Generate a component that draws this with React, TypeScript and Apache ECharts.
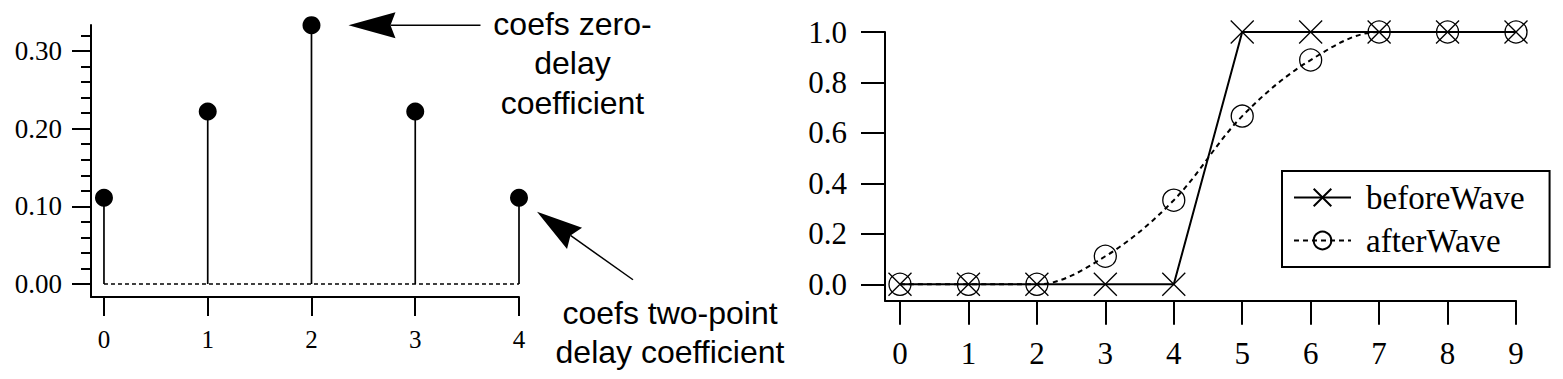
import React, { useEffect, useRef } from "react";
import * as echarts from "echarts";

// Left chart: coefficients (stem plot)
const coefIndex = [0, 1, 2, 3, 4];
const coefs = [0.1111, 0.2222, 0.3333, 0.2222, 0.1111];
const coefYTicks = [0, 0.1, 0.2, 0.3];
const coefYMinorTicks = [0.02, 0.04, 0.06, 0.08, 0.12, 0.14, 0.16, 0.18, 0.22, 0.24, 0.26, 0.28, 0.32];
const coefXTicks = [0, 1, 2, 3, 4];

// Right chart: waves
const waveIndex = [0, 1, 2, 3, 4, 5, 6, 7, 8, 9];
const beforeWave = [0, 0, 0, 0, 0, 1, 1, 1, 1, 1];
const afterWave = [0, 0, 0, 0.1111, 0.3333, 0.6667, 0.8889, 1, 1, 1];
const waveYTicks = [0, 0.2, 0.4, 0.6, 0.8, 1.0];
const waveXTicks = [0, 1, 2, 3, 4, 5, 6, 7, 8, 9];

const topNote = "coefs zero-\ndelay\ncoefficient";
const bottomNote = "coefs two-point\ndelay coefficient";

const SERIF = "'Liberation Serif', 'Times New Roman', serif";
const SANS = "'Liberation Sans', Arial, sans-serif";

export default function App() {
  const ref = useRef<HTMLDivElement>(null);
  useEffect(() => {
    document.body.style.margin = "0";
    if (!ref.current) return;
    const chart = echarts.init(ref.current, null, { renderer: "svg" });
    const axisLine = { show: true, onZero: false, lineStyle: { color: "#000", width: 2 } };
    const option: any = {
      animation: false,
      backgroundColor: "#fff",
      textStyle: { fontFamily: SERIF, color: "#000" },
      grid: [
        { left: 91, top: 25, width: 428, height: 272, containLabel: false },
        { left: 885, top: 32, width: 631, height: 268.7, containLabel: false },
      ],
      xAxis: [
        {
          type: "value", gridIndex: 0, min: -0.125, max: 4,
          axisLine, splitLine: { show: false },
          axisTick: { show: true, length: 19, customValues: coefXTicks, lineStyle: { color: "#000", width: 2 } },
          axisLabel: { customValues: coefXTicks, fontSize: 25, color: "#000", fontFamily: SERIF, margin: 30 },
        },
        {
          type: "value", gridIndex: 1, min: -0.219, max: 9,
          axisLine, splitLine: { show: false },
          axisTick: { show: true, length: 24, customValues: waveXTicks, lineStyle: { color: "#000", width: 2 } },
          axisLabel: { customValues: waveXTicks, fontSize: 31, color: "#000", fontFamily: SERIF, margin: 37 },
        },
      ],
      yAxis: [
        {
          type: "value", gridIndex: 0, min: -0.0167, max: 0.3335,
          axisLine, splitLine: { show: false },
          axisTick: { show: true, length: 19, customValues: coefYTicks, lineStyle: { color: "#000", width: 2 } },
          axisLabel: { customValues: coefYTicks, fontSize: 27, color: "#000", fontFamily: SERIF, margin: 29,
            formatter: (v: number) => v.toFixed(2) },
        },
        {
          type: "value", gridIndex: 0, min: -0.0167, max: 0.3335, position: "left", offset: 0,
          axisLine: { show: false, onZero: false }, splitLine: { show: false },
          axisTick: { show: true, length: 10, customValues: coefYMinorTicks, lineStyle: { color: "#000", width: 2 } },
          axisLabel: { show: false },
        },
        {
          type: "value", gridIndex: 1, min: -0.065, max: 1,
          axisLine, splitLine: { show: false },
          axisTick: { show: true, length: 24, customValues: waveYTicks, lineStyle: { color: "#000", width: 2 } },
          axisLabel: { customValues: waveYTicks, fontSize: 31, color: "#000", fontFamily: SERIF, margin: 38,
            formatter: (v: number) => v.toFixed(1) },
        },
      ],
      legend: {
        orient: "vertical", left: 1282, top: 171,
        data: ["beforeWave", "afterWave"],
        itemWidth: 57, itemHeight: 22, itemGap: 10,
        borderColor: "#000", borderWidth: 2, borderRadius: 0,
        padding: [10, 25, 10, 11],
        textStyle: { fontSize: 33, fontFamily: SERIF, color: "#000", padding: [0, 0, 0, 10] },
      },
      series: [
        {
          name: "zero", type: "line", xAxisIndex: 0, yAxisIndex: 0,
          data: [[coefIndex[0], 0], [coefIndex[coefIndex.length - 1], 0]],
          symbol: "none", lineStyle: { color: "#000", width: 1.5, type: [4, 3] }, silent: true,
        },
        {
          name: "stems", type: "custom", xAxisIndex: 0, yAxisIndex: 0,
          data: coefIndex.map((x, i) => [x, coefs[i]]),
          renderItem: (params: any, api: any) => {
            const top = api.coord([api.value(0), api.value(1)]);
            const base = api.coord([api.value(0), 0]);
            return {
              type: "line",
              shape: { x1: top[0], y1: top[1], x2: base[0], y2: base[1] },
              style: { stroke: "#000", lineWidth: 1.7 },
            };
          },
        },
        {
          name: "coefs", type: "scatter", xAxisIndex: 0, yAxisIndex: 0,
          data: coefIndex.map((x, i) => [x, coefs[i]]),
          symbol: "circle", symbolSize: 18, itemStyle: { color: "#000", opacity: 1 },
        },
        {
          name: "beforeWave", type: "line", xAxisIndex: 1, yAxisIndex: 2,
          data: waveIndex.map((x, i) => [x, beforeWave[i]]),
          symbol: "path://M0,0L10,10M10,0L0,10", symbolSize: 23,
          itemStyle: { color: "#000", borderColor: "#000", borderWidth: 1.3 },
          lineStyle: { color: "#000", width: 2 },
        },
        {
          name: "afterWave", type: "line", xAxisIndex: 1, yAxisIndex: 2,
          data: waveIndex.map((x, i) => [x, afterWave[i]]),
          smooth: 0.35,
          symbol: "circle", symbolSize: 22,
          itemStyle: { color: "rgba(0,0,0,0)", borderColor: "#000", borderWidth: 1.3 },
          lineStyle: { color: "#000", width: 2, type: [5, 4] },
        },
      ],
    };
    chart.setOption(option);

    const p2 = chart.convertToPixel({ gridIndex: 0 }, [coefIndex[2], coefs[2]]) as number[];
    const p4 = chart.convertToPixel({ gridIndex: 0 }, [coefIndex[4], coefs[4]]) as number[];
    const t1 = [p2[0] + 37, p2[1]];
    const t2 = [p4[0] + 18, p4[1] + 14];
    const end2 = [t2[0] + 96, t2[1] + 68];
    const len = Math.hypot(end2[0] - t2[0], end2[1] - t2[1]);
    const ux = (end2[0] - t2[0]) / len, uy = (end2[1] - t2[1]) / len;
    const px = -uy, py = ux;
    const hb = [t2[0] + 46 * ux, t2[1] + 46 * uy];
    const hn = [t2[0] + 41 * ux, t2[1] + 41 * uy];

    chart.setOption({
      graphic: [
        { type: "line", shape: { x1: t1[0] + 42, y1: t1[1], x2: t1[0] + 132, y2: t1[1] }, style: { stroke: "#000", lineWidth: 1.5 } },
        { type: "polygon", shape: { points: [[t1[0], t1[1]], [t1[0] + 47, t1[1] - 13], [t1[0] + 42, t1[1]], [t1[0] + 47, t1[1] + 13]] }, style: { fill: "#000" } },
        { type: "line", shape: { x1: hn[0], y1: hn[1], x2: end2[0], y2: end2[1] }, style: { stroke: "#000", lineWidth: 1.5 } },
        { type: "polygon", shape: { points: [[t2[0], t2[1]], [hb[0] + 13 * px, hb[1] + 13 * py], [hn[0], hn[1]], [hb[0] - 13 * px, hb[1] - 13 * py]] }, style: { fill: "#000" } },
        { type: "text", x: t1[0] + 224, y: t1[1] - 21, style: { text: topNote, font: `32px ${SANS}`, fill: "#000", align: "center", verticalAlign: "top", lineHeight: 39.5 }, },
        { type: "text", x: p4[0] + 151, y: p4[1] + 96, style: { text: bottomNote, font: `32px ${SANS}`, fill: "#000", align: "center", verticalAlign: "top", lineHeight: 39 }, },
      ],
    });
    return () => chart.dispose();
  }, []);
  return <div ref={ref} style={{ width: 1563, height: 379 }} />;
}
